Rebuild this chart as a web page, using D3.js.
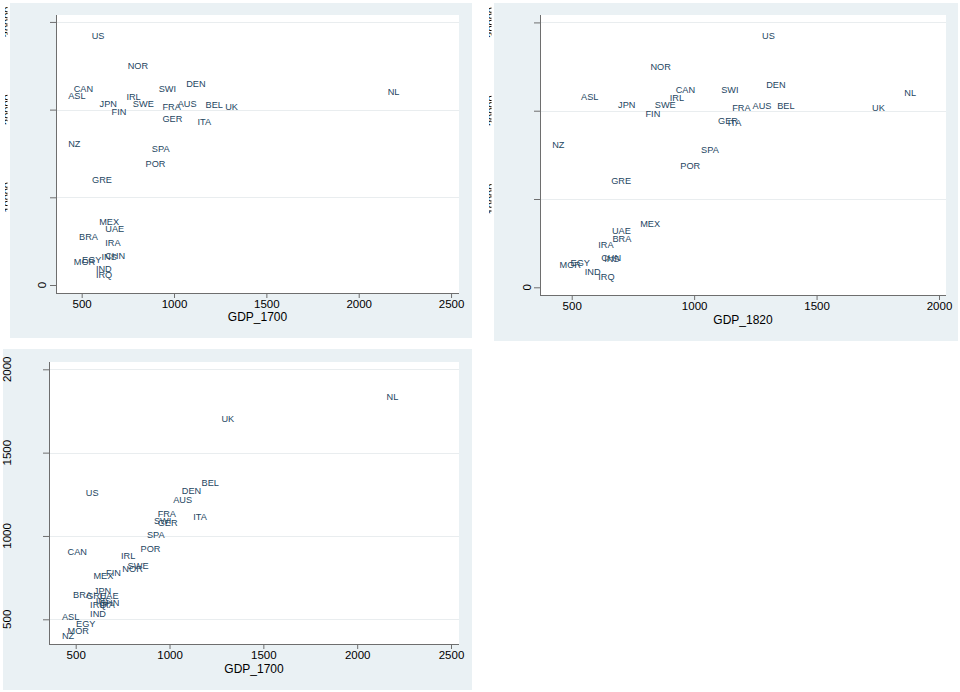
<!DOCTYPE html>
<html>
<head>
<meta charset="utf-8">
<script src="https://cdn.jsdelivr.net/npm/d3@7"></script>
<style>
  html, body { margin: 0; padding: 0; background: #ffffff; }
  svg { display: block; }
  text { font-family: "Liberation Sans", Arial, Helvetica, sans-serif; }
</style>
</head>
<body>
<svg id="chart" width="960" height="692"></svg>
<script>
// ---------------- DATA ----------------
const countries = ["US","NOR","CAN","ASL","DEN","SWI","IRL","JPN","SWE","FRA","AUS","BEL","UK","FIN","GER","ITA","NL","NZ","SPA","POR","GRE","MEX","UAE","BRA","IRA","CHN","INS","EGY","MOR","IND","IRQ"];
const gdp1700 = [527, 722, 430, 400, 1039, 890, 715, 570, 750, 910, 993, 1144, 1250, 635, 910, 1100, 2130, 400, 853, 819, 529, 568, 601, 459, 601, 600, 580, 475, 430, 550, 550];
const gdp1820 = [1257, 801, 904, 518, 1274, 1090, 880, 669, 819, 1135, 1218, 1319, 1706, 781, 1077, 1117, 1838, 400, 1008, 923, 641, 759, 644, 646, 588, 600, 612, 475, 430, 533, 588];
const yValue  = [28430, 25030, 22420, 21630, 22910, 22420, 21470, 20680, 20650, 20340, 20610, 20570, 20310, 19700, 18910, 18640, 22080, 16150, 15550, 13770, 12040, 7200, 6410, 5470, 4760, 3300, 3260, 2830, 2600, 1810, 1170];

const xTicks1700 = [500, 1000, 1500, 2000, 2500];
const xTicks1820 = [500, 1000, 1500, 2000];
const yTicksTop  = [0, 10000, 20000, 30000];
const yTicks1820 = [500, 1000, 1500, 2000];
const xTitle1 = "GDP_1700";
const xTitle2 = "GDP_1820";
const xTitle3 = "GDP_1700";

const rows = countries.map((c, i) => ({ name: c, g1700: gdp1700[i], g1820: gdp1820[i], y: yValue[i] }));

// ---------------- DRAW ----------------
const svg = d3.select("#chart");
const BG = "#eaf1f4";
const AXIS = "#6e6e6e";
const GRID = "#e9edef";
const LABEL = "#24465f";

let clipId = 0;

function drawPanel(cfg) {
  const g = svg.append("g");
  g.append("rect").attr("x", cfg.bg[0]).attr("y", cfg.bg[1])
    .attr("width", cfg.bg[2]).attr("height", cfg.bg[3]).attr("fill", BG);

  const [L, T, R, B] = cfg.plot;
  g.append("rect").attr("x", L).attr("y", T).attr("width", R - L).attr("height", B - T).attr("fill", "#ffffff");

  const x = d3.scaleLinear().domain(cfg.xDomain).range([L, R]);
  const y = d3.scaleLinear().domain(cfg.yDomain).range([B, T]);

  // grid lines
  g.append("g").selectAll("line").data(cfg.yTicks.filter(t => cfg.gridAll || t !== cfg.yTicks[0])).join("line")
    .attr("x1", L).attr("x2", R)
    .attr("y1", d => Math.round(y(d)) + 0.5).attr("y2", d => Math.round(y(d)) + 0.5)
    .attr("stroke", GRID).attr("stroke-width", 1);

  // x axis
  const xAxis = d3.axisBottom(x).tickValues(cfg.xTicks).tickSize(5).tickPadding(2).tickFormat(d3.format("d"));
  const gx = g.append("g").attr("transform", `translate(0,${B})`).call(xAxis);
  gx.select(".domain").attr("stroke", AXIS).attr("d", `M${L},0.5H${R}`);
  gx.selectAll(".tick line").attr("stroke", AXIS);
  gx.selectAll(".tick text").attr("font-size", 11.5).attr("fill", "#000")
    .attr("font-family", "Liberation Sans, Arial, sans-serif");

  // y axis (ticks only, labels custom)
  const yAxis = d3.axisLeft(y).tickValues(cfg.yTicks).tickSize(6).tickFormat("");
  const gy = g.append("g").attr("transform", `translate(${L},0)`).call(yAxis);
  gy.select(".domain").attr("stroke", AXIS).attr("d", `M0.5,${T}V${B}`);
  gy.selectAll(".tick line").attr("stroke", AXIS);

  // y tick labels (rotated)
  if (cfg.clipLabels) {
    const id = "clip" + (clipId++);
    svg.append("defs").append("clipPath").attr("id", id)
      .append("rect").attr("x", cfg.clipX[0]).attr("y", T - 20).attr("width", cfg.clipX[1] - cfg.clipX[0]).attr("height", B - T + 40);
    const cl = g.append("g").attr("clip-path", `url(#${id})`);
    cl.selectAll("text").data(cfg.yTicks.filter(t => t !== 0)).join("text")
      .attr("transform", d => `translate(${cfg.clipBase},${y(d)}) rotate(-90)`)
      .attr("text-anchor", "middle").attr("font-size", 11).attr("fill", "#000")
      .text(d => d3.format("d")(d));
    g.selectAll(".zero").data([0]).join("text").attr("class", "zero")
      .attr("transform", d => `translate(${cfg.zeroBase},${y(d)}) rotate(-90)`)
      .attr("text-anchor", "middle").attr("font-size", 11.5).attr("fill", "#000")
      .text("0");
  } else {
    g.append("g").selectAll("text").data(cfg.yTicks).join("text")
      .attr("transform", d => `translate(${cfg.yLabelBase},${y(d)}) rotate(-90)`)
      .attr("text-anchor", "middle").attr("font-size", 11.5).attr("fill", "#000")
      .text(d => d3.format("d")(d));
  }

  // x title
  g.append("text").attr("x", (L + R) / 2).attr("y", cfg.titleY)
    .attr("text-anchor", "middle").attr("font-size", 12).attr("fill", "#000")
    .text(cfg.xTitle);

  // marker labels
  g.append("g").selectAll("text").data(rows).join("text")
    .attr("x", d => x(d[cfg.xKey]) + 5)
    .attr("y", d => y(d[cfg.yKey]))
    .attr("dy", "0.35em")
    .attr("font-size", 9.2).attr("fill", LABEL)
    .text(d => d.name);
}

drawPanel({
  bg: [10, 3, 462, 335],
  plot: [56, 15, 459, 293],
  xDomain: [361, 2543], yDomain: [-912, 30790],
  xTicks: xTicks1700, yTicks: yTicksTop,
  xKey: "g1700", yKey: "y",
  xTitle: xTitle1, titleY: 321,
  clipLabels: true, clipX: [5, 7.5], clipBase: 12, zeroBase: 45.5
});

drawPanel({
  bg: [494, 3, 464, 338],
  plot: [540, 15, 946, 295],
  xDomain: [370.5, 2028.6], yDomain: [-872, 30840],
  xTicks: xTicks1820, yTicks: yTicksTop,
  xKey: "g1820", yKey: "y",
  xTitle: xTitle2, titleY: 324,
  clipLabels: true, clipX: [489, 491.5], clipBase: 496, zeroBase: 530.5
});

drawPanel({
  bg: [3, 349, 469, 341],
  plot: [49, 362, 459, 644],
  xDomain: [357.7, 2542.6], yDomain: [351.8, 2043.8],
  xTicks: xTicks1700, yTicks: yTicks1820,
  xKey: "g1700", yKey: "g1820",
  xTitle: xTitle3, titleY: 673,
  gridAll: true,
  clipLabels: false, yLabelBase: 10.5
});
</script>
</body>
</html>
